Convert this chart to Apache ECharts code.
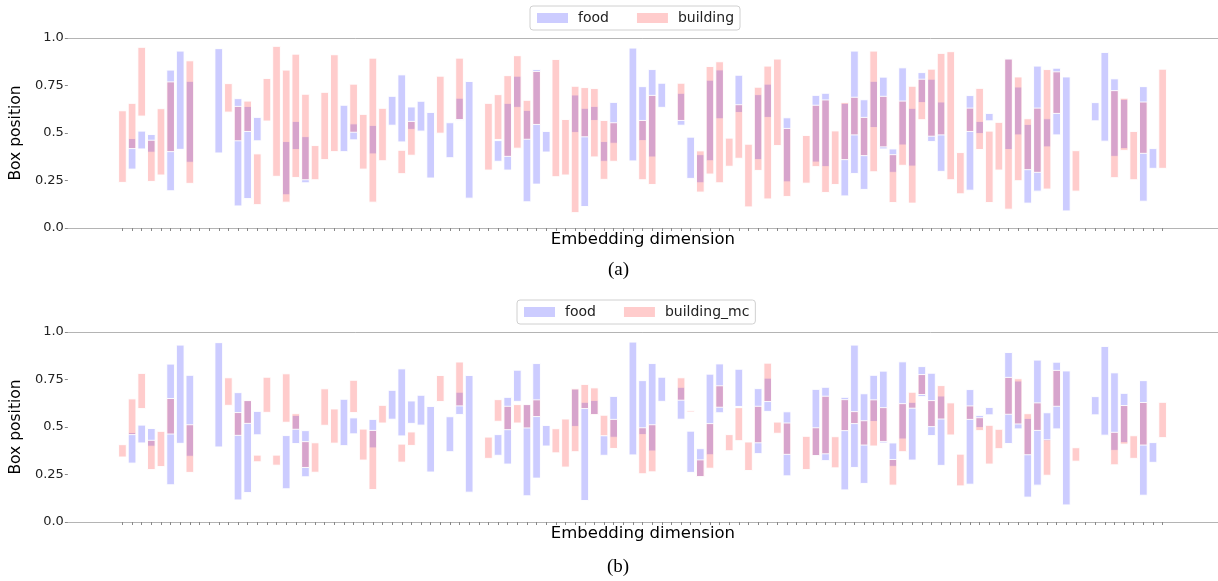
<!DOCTYPE html>
<html>
<head>
<meta charset="utf-8">
<script src="https://cdn.jsdelivr.net/npm/echarts@6/dist/echarts.min.js"></script>
<style>
html, body { margin: 0; padding: 0; background: #fff; }
#chart { width: 1218px; height: 581px; }
</style>
</head>
<body>
<div id="chart"></div>
<script>
// box bounds per embedding dimension: [low, high], null = empty box
var food = [
  null, [0.310, 0.471], [0.416, 0.510], [0.399, 0.492], null, [0.196, 0.831], [0.414, 0.931], [0.346, 0.772], null, null,
  [0.395, 0.944], null, [0.116, 0.681], [0.155, 0.640], [0.459, 0.582], null, null, [0.175, 0.455], [0.413, 0.561], [0.238, 0.481],
  null, null, null, [0.402, 0.646], [0.464, 0.548], null, [0.390, 0.540], null, [0.541, 0.693], [0.453, 0.806],
  [0.519, 0.637], [0.510, 0.667], [0.263, 0.608], null, [0.370, 0.554], [0.566, 0.683], [0.157, 0.771], null, null, [0.351, 0.460],
  [0.305, 0.656], [0.635, 0.799], [0.138, 0.619], [0.231, 0.834], [0.400, 0.508], null, null, [0.503, 0.700], [0.113, 0.630], [0.566, 0.640],
  [0.351, 0.455], [0.446, 0.661], null, [0.353, 0.947], [0.460, 0.744], [0.374, 0.834], [0.635, 0.762], null, [0.541, 0.709], [0.261, 0.478],
  [0.238, 0.386], [0.354, 0.778], [0.575, 0.832], null, [0.608, 0.804], null, [0.360, 0.702], [0.582, 0.757], null, [0.243, 0.580],
  null, null, [0.347, 0.698], [0.323, 0.709], null, [0.169, 0.656], [0.287, 0.931], [0.203, 0.675], [0.529, 0.772], [0.416, 0.794],
  [0.293, 0.416], [0.437, 0.843], [0.326, 0.630], [0.660, 0.818], [0.455, 0.783], [0.298, 0.663], null, null, [0.199, 0.697], [0.497, 0.561],
  [0.564, 0.603], null, [0.413, 0.892], [0.490, 0.742], [0.131, 0.545], [0.194, 0.852], [0.427, 0.575], [0.490, 0.841], [0.090, 0.795], null,
  null, [0.564, 0.660], [0.457, 0.924], [0.377, 0.785], [0.418, 0.677], null, [0.141, 0.744], [0.314, 0.418], null
];
var building = [
  [0.240, 0.617], [0.418, 0.656], [0.589, 0.951], [0.245, 0.462], [0.279, 0.628], [0.402, 0.769], null, [0.235, 0.880], null, null,
  null, [0.610, 0.760], [0.459, 0.640], [0.508, 0.668], [0.123, 0.390], [0.563, 0.787], [0.272, 0.956], [0.136, 0.831], [0.266, 0.915], [0.254, 0.704],
  [0.254, 0.434], [0.360, 0.714], [0.402, 0.912], null, [0.504, 0.757], [0.310, 0.598], [0.136, 0.894], [0.354, 0.630], null, [0.286, 0.409],
  [0.383, 0.561], null, null, [0.499, 0.799], null, [0.571, 0.894], null, null, [0.305, 0.656], [0.466, 0.702],
  [0.377, 0.802], [0.420, 0.907], [0.467, 0.672], [0.545, 0.824], null, [0.270, 0.887], [0.279, 0.571], [0.081, 0.746], [0.480, 0.739], [0.374, 0.734],
  [0.256, 0.566], [0.351, 0.554], null, null, [0.254, 0.566], [0.229, 0.698], null, null, [0.566, 0.762], null,
  [0.189, 0.406], [0.284, 0.850], [0.238, 0.875], [0.325, 0.473], [0.367, 0.649], [0.111, 0.441], [0.303, 0.741], [0.153, 0.852], [0.434, 0.889], [0.166, 0.524],
  null, [0.236, 0.487], [0.323, 0.646], [0.187, 0.674], [0.229, 0.511], [0.360, 0.660], [0.490, 0.688], [0.381, 0.582], [0.296, 0.931], [0.427, 0.693],
  [0.134, 0.386], [0.330, 0.668], [0.131, 0.746], [0.570, 0.783], [0.483, 0.836], [0.490, 0.919], [0.254, 0.928], [0.180, 0.397], [0.508, 0.631], [0.413, 0.735],
  [0.134, 0.510], [0.305, 0.556], [0.099, 0.889], [0.249, 0.795], [0.307, 0.575], [0.293, 0.631], [0.205, 0.834], [0.603, 0.822], null, [0.194, 0.407],
  null, null, null, [0.265, 0.723], [0.409, 0.683], [0.254, 0.508], [0.393, 0.663], null, [0.314, 0.836]
];
var buildingMc = [
  [0.342, 0.407], [0.460, 0.648], [0.597, 0.782], [0.276, 0.430], [0.292, 0.477], [0.463, 0.650], null, [0.261, 0.512], null, null,
  null, [0.614, 0.759], [0.456, 0.576], [0.519, 0.639], [0.317, 0.352], [0.577, 0.762], [0.299, 0.352], [0.525, 0.780], [0.488, 0.570], [0.287, 0.423],
  [0.262, 0.417], [0.509, 0.701], [0.415, 0.595], null, [0.576, 0.746], [0.326, 0.489], [0.171, 0.482], [0.521, 0.614], null, [0.315, 0.410],
  [0.403, 0.474], null, null, [0.634, 0.771], null, [0.611, 0.842], null, null, [0.335, 0.447], [0.530, 0.644],
  [0.486, 0.609], [0.521, 0.618], [0.495, 0.618], [0.555, 0.643], null, [0.364, 0.491], [0.289, 0.542], [0.370, 0.701], [0.597, 0.724], [0.565, 0.706],
  [0.454, 0.562], [0.387, 0.540], null, null, [0.254, 0.496], [0.264, 0.512], null, null, [0.641, 0.759], [0.579, 0.586],
  [0.239, 0.327], [0.283, 0.518], [0.604, 0.717], [0.375, 0.460], [0.428, 0.602], [0.271, 0.421], [0.417, 0.609], [0.634, 0.836], [0.467, 0.526], [0.356, 0.521],
  null, [0.276, 0.451], [0.350, 0.496], [0.359, 0.662], [0.285, 0.449], [0.481, 0.644], [0.518, 0.581], [0.405, 0.533], [0.400, 0.643], [0.424, 0.602],
  [0.194, 0.329], [0.370, 0.623], [0.599, 0.683], [0.671, 0.776], [0.502, 0.639], [0.542, 0.718], [0.458, 0.627], [0.190, 0.357], [0.540, 0.611], [0.481, 0.549],
  [0.305, 0.509], [0.386, 0.488], [0.567, 0.761], [0.516, 0.754], [0.354, 0.570], [0.482, 0.627], [0.246, 0.433], [0.609, 0.798], null, [0.320, 0.391],
  null, null, null, [0.301, 0.472], [0.410, 0.613], [0.335, 0.454], [0.405, 0.629], null, [0.444, 0.630]
];
var yTicks = [0, 0.25, 0.5, 0.75, 1];
var yTickLabels = ['0.0', '0.25', '0.5', '0.75', '1.0'];

var dims = food.map(function (b, i) { return i; });
var blue = 'rgba(0,0,255,0.2)';
var red = 'rgba(255,0,0,0.2)';
var font = 'DejaVu Sans';
var spine = '#b4b4b4';

function toData(boxes) {
  var out = [];
  boxes.forEach(function (b, i) {
    if (b) out.push([i, b[0], b[1]]);
  });
  return out;
}

// one rect per dimension, from low to high
function renderBox(params, api) {
  var x = api.value(0);
  var top = api.coord([x, api.value(2)]);
  var bot = api.coord([x, api.value(1)]);
  var w = api.size([0.8, 0])[0];
  return {
    type: 'rect',
    shape: { x: top[0] - w / 2, y: top[1], width: w, height: Math.max(bot[1] - top[1], 0.5) },
    style: { fill: api.visual('color'), stroke: 'rgba(255,255,255,0.9)', lineWidth: 1 }
  };
}

function xAxisFor(grid) {
  return [{
    type: 'value', gridIndex: grid, min: -5.67, max: 113.75, position: 'bottom',
    name: 'Embedding dimension', nameLocation: 'middle', nameGap: 3,
    nameTextStyle: { fontFamily: font, fontSize: 16.5, color: '#000' },
    axisLine: { show: true, onZero: false, lineStyle: { color: spine, width: 1 } },
    axisTick: { show: true, length: 3, customValues: dims, lineStyle: { color: '#888' } },
    axisLabel: { show: false },
    splitLine: { show: false }
  }, {
    type: 'value', gridIndex: grid, min: -5.67, max: 113.75, position: 'top',
    axisLine: { show: true, onZero: false, lineStyle: { color: spine, width: 1 } },
    axisTick: { show: false }, axisLabel: { show: false }, splitLine: { show: false }
  }];
}

function yAxisFor(grid) {
  return {
    type: 'value', gridIndex: grid, min: 0, max: 1, interval: 0.25, position: 'left',
    name: 'Box position', nameLocation: 'middle', nameGap: 34, nameRotate: 90,
    nameTextStyle: { fontFamily: font, fontSize: 15.5, color: '#000' },
    axisLine: { show: false, onZero: false },
    axisTick: { show: true, length: 3, lineStyle: { color: '#888' } },
    axisLabel: {
      fontFamily: font, fontSize: 13, color: '#222', margin: 4,
      formatter: function (v) { return yTickLabels[yTicks.indexOf(v)]; }
    },
    splitLine: { show: false }
  };
}

function legendFor(top, left, names) {
  return {
    top: top, left: left, data: names,
    icon: 'rect', itemWidth: 31, itemHeight: 10, itemGap: 28,
    padding: [5, 6, 5, 7],
    borderColor: '#d0d0d0', borderWidth: 1, borderRadius: 3,
    textStyle: { fontFamily: font, fontSize: 14, color: '#222', padding: [0, 0, 0, 5] },
    selectedMode: false
  };
}

function boxSeries(name, boxes, color, xIdx, yIdx) {
  return {
    name: name, type: 'custom', xAxisIndex: xIdx, yAxisIndex: yIdx,
    renderItem: renderBox, itemStyle: { color: color },
    encode: { x: 0, y: [1, 2] },
    data: toData(boxes)
  };
}

var chart = echarts.init(document.getElementById('chart'));
chart.setOption({
  animation: false,
  title: [
    { text: '(a)', left: 603, top: 256, textStyle: { fontFamily: 'Liberation Serif', fontSize: 19, fontWeight: 'normal', color: '#000' } },
    { text: '(b)', left: 602, top: 553, textStyle: { fontFamily: 'Liberation Serif', fontSize: 19, fontWeight: 'normal', color: '#000' } }
  ],
  legend: [
    legendFor(6, 530, ['food', 'building']),
    legendFor(300, 517, ['food', 'building_mc'])
  ],
  grid: [
    { left: 60, right: 0, top: 38, height: 190 },
    { left: 60, right: 0, top: 332, height: 190 }
  ],
  xAxis: xAxisFor(0).concat(xAxisFor(1)),
  yAxis: [yAxisFor(0), yAxisFor(1)],
  series: [
    boxSeries('food', food, blue, 0, 0),
    boxSeries('building', building, red, 0, 0),
    boxSeries('food', food, blue, 2, 1),
    boxSeries('building_mc', buildingMc, red, 2, 1)
  ]
});
</script>
</body>
</html>
